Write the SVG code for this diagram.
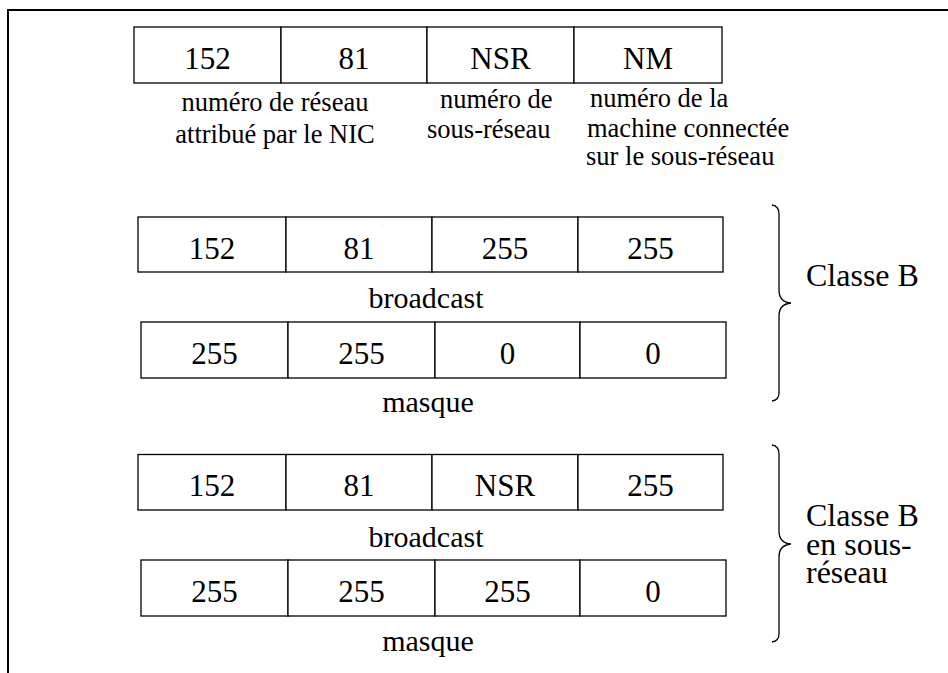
<svg xmlns="http://www.w3.org/2000/svg" width="948" height="673" viewBox="0 0 948 673" font-family="Liberation Serif">
<rect width="948" height="673" fill="#fff"/>
<path d="M8,673 V10 H948" fill="none" stroke="#000" stroke-width="2"/>

<g id="row-adresse" fill="#fff" stroke="#000" stroke-width="1.3">
<rect x="134" y="27" width="147" height="56"/>
<rect x="281" y="27" width="146" height="56"/>
<rect x="427" y="27" width="147" height="56"/>
<rect x="574" y="27" width="148" height="56"/>
<g fill="#000" stroke="none" font-family="Liberation Serif">
<g font-size="31" text-anchor="middle">
<text x="207.5" y="69" font-family="Liberation Serif">152</text>
<text x="354" y="69" font-family="Liberation Serif">81</text>
<text x="500.5" y="69" font-family="Liberation Serif">NSR</text>
<text x="648" y="69" font-family="Liberation Serif">NM</text>
</g>
<g font-size="26.5">
<text x="275" y="111" text-anchor="middle" font-family="Liberation Serif">num&#233;ro de r&#233;seau</text>
<text x="275" y="143" text-anchor="middle" font-family="Liberation Serif">attribu&#233; par le NIC</text>
<text x="440" y="108" font-family="Liberation Serif">num&#233;ro de</text>
<text x="427" y="138" font-family="Liberation Serif">sous-r&#233;seau</text>
<text x="590" y="107" font-family="Liberation Serif">num&#233;ro de la</text>
<text x="587" y="137" font-family="Liberation Serif">machine connect&#233;e</text>
<text x="586" y="165" font-family="Liberation Serif">sur le sous-r&#233;seau</text>
</g>
</g>
</g>

<g id="row-broadcast-b" fill="#fff" stroke="#000" stroke-width="1.3">
<rect x="138" y="217" width="148" height="55"/>
<rect x="286" y="217" width="146" height="55"/>
<rect x="432" y="217" width="146" height="55"/>
<rect x="578" y="217" width="145" height="55"/>
<g fill="#000" stroke="none" font-size="31" text-anchor="middle" font-family="Liberation Serif">
<text x="212" y="258.5" font-family="Liberation Serif">152</text>
<text x="359" y="258.5" font-family="Liberation Serif">81</text>
<text x="505" y="258.5" font-family="Liberation Serif">255</text>
<text x="650.5" y="258.5" font-family="Liberation Serif">255</text>
<text x="426" y="308" font-size="30" font-family="Liberation Serif">broadcast</text>
</g>
</g>

<g id="row-masque-b" fill="#fff" stroke="#000" stroke-width="1.3">
<rect x="141" y="322" width="147" height="56"/>
<rect x="288" y="322" width="147" height="56"/>
<rect x="435" y="322" width="145" height="56"/>
<rect x="580" y="322" width="146" height="56"/>
<g fill="#000" stroke="none" font-size="31" text-anchor="middle" font-family="Liberation Serif">
<text x="214.5" y="364" font-family="Liberation Serif">255</text>
<text x="361.5" y="364" font-family="Liberation Serif">255</text>
<text x="507.5" y="364" font-family="Liberation Serif">0</text>
<text x="653" y="364" font-family="Liberation Serif">0</text>
<text x="428" y="411.5" font-size="30" font-family="Liberation Serif">masque</text>
</g>
</g>

<g id="row-broadcast-sr" fill="#fff" stroke="#000" stroke-width="1.3">
<rect x="138" y="454.5" width="148" height="55.5"/>
<rect x="286" y="454.5" width="146" height="55.5"/>
<rect x="432" y="454.5" width="146" height="55.5"/>
<rect x="578" y="454.5" width="145" height="55.5"/>
<g fill="#000" stroke="none" font-size="31" text-anchor="middle" font-family="Liberation Serif">
<text x="212" y="496" font-family="Liberation Serif">152</text>
<text x="359" y="496" font-family="Liberation Serif">81</text>
<text x="505" y="496" font-family="Liberation Serif">NSR</text>
<text x="650.5" y="496" font-family="Liberation Serif">255</text>
<text x="426" y="546.5" font-size="30" font-family="Liberation Serif">broadcast</text>
</g>
</g>

<g id="row-masque-sr" fill="#fff" stroke="#000" stroke-width="1.3">
<rect x="141" y="560" width="147" height="56"/>
<rect x="288" y="560" width="147" height="56"/>
<rect x="435" y="560" width="145" height="56"/>
<rect x="580" y="560" width="146" height="56"/>
<g fill="#000" stroke="none" font-size="31" text-anchor="middle" font-family="Liberation Serif">
<text x="214.5" y="602" font-family="Liberation Serif">255</text>
<text x="361.5" y="602" font-family="Liberation Serif">255</text>
<text x="507.5" y="602" font-family="Liberation Serif">255</text>
<text x="653" y="602" font-family="Liberation Serif">0</text>
<text x="428" y="651" font-size="30" font-family="Liberation Serif">masque</text>
</g>
</g>

<g id="classe-b">
<path d="M772,205 Q779,206 779,214 V290 Q779,302 791,303 Q779,304 779,316 V393 Q779,400 772,401" fill="none" stroke="#000" stroke-width="1.3"/>
<text x="806" y="286" font-size="32" fill="#000" font-family="Liberation Serif">Classe B</text>
</g>

<g id="classe-b-sr">
<path d="M772,445 Q779,446 779,454 V531 Q779,543 791,544 Q779,545 779,557 V634 Q779,641 772,642" fill="none" stroke="#000" stroke-width="1.3"/>
<g font-size="32" fill="#000" font-family="Liberation Serif">
<text x="806" y="526" font-family="Liberation Serif">Classe B</text>
<text x="806" y="555" font-family="Liberation Serif">en sous-</text>
<text x="806" y="583" font-family="Liberation Serif">r&#233;seau</text>
</g>
</g>
</svg>
